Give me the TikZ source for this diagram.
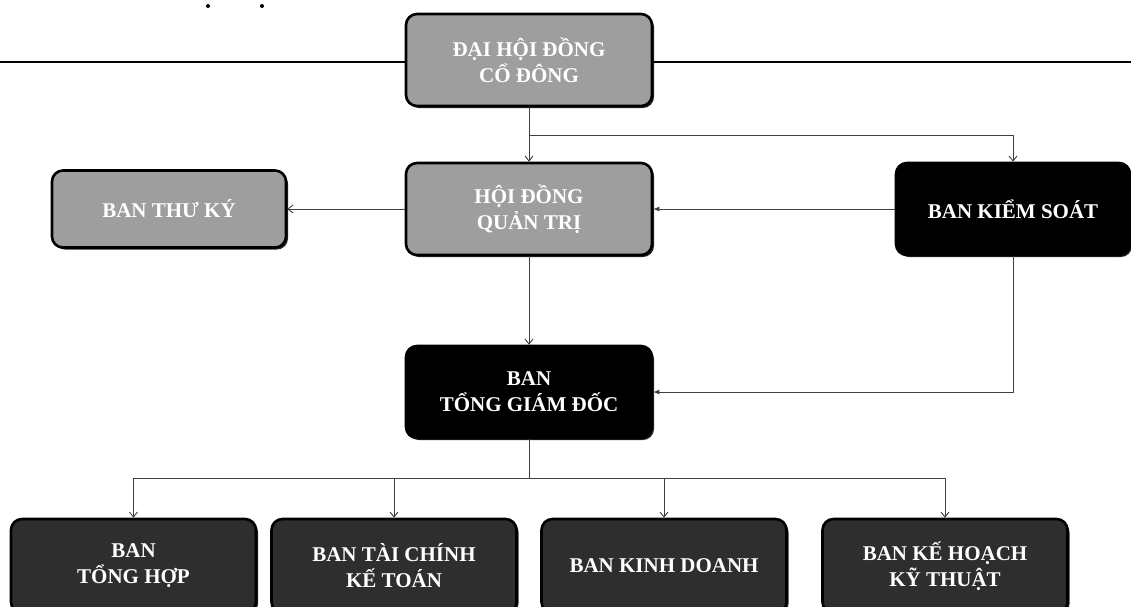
\documentclass[tikz,border=0pt]{standalone}
\usepackage{fontspec}
\setmainfont{Liberation Serif}
\usetikzlibrary{arrows.meta,shadows}
\begin{document}
\begin{tikzpicture}[x=1pt,y=-1pt,
 box/.style={draw=black, line width=2.6pt, rounded corners=11pt, align=center, text=white,
   font=\bfseries\fontsize{21}{26}\selectfont, inner sep=0pt,
   drop shadow={shadow xshift=2pt, shadow yshift=-2pt, fill=black, opacity=0.85}},
 lightbox/.style={box, fill=black!38},
 blackbox/.style={box, fill=black},
 darkbox/.style={box, fill=black!82},
 conn/.style={draw=black!75, line width=0.9pt},
 openarrow/.style={conn, -{Straight Barb[length=5pt,width=8pt]}},
 fillarrow/.style={conn, -{Latex[length=6pt,width=5pt]}}
]
\useasboundingbox (0,0) rectangle (1131,606);
\fill (208,6) circle (2pt);
\fill (262,6) circle (2pt);
\draw[line width=1.3pt] (0,62) -- (1131,62);

\node[lightbox, minimum width=246pt, minimum height=92pt] (dhd) at (529,60) {ĐẠI HỘI ĐỒNG\\CỔ ĐÔNG};
\node[lightbox, minimum width=246pt, minimum height=92pt] (hdqt) at (529,209) {HỘI ĐỒNG\\QUẢN TRỊ};
\node[lightbox, minimum width=234pt, minimum height=77pt] (tk) at (169,209) {BAN THƯ KÝ};
\node[blackbox, minimum width=234pt, minimum height=92pt] (ks) at (1013,209) {BAN KIỂM SOÁT};
\node[blackbox, minimum width=246pt, minimum height=92pt] (tgd) at (529,392) {BAN\\TỔNG GIÁM ĐỐC};

\node[darkbox, minimum width=245pt, minimum height=94pt] (b1) at (133.5,566) {BAN\\TỔNG HỢP};
\node[darkbox, minimum width=245pt, minimum height=94pt] (b2) at (394,566) {BAN TÀI CHÍNH\\KẾ TOÁN};
\node[darkbox, minimum width=245pt, minimum height=94pt] (b3) at (664,566) {BAN KINH DOANH};
\node[darkbox, minimum width=245pt, minimum height=94pt] (b4) at (945,566) {BAN KẾ HOẠCH\\KỸ THUẬT};

\coordinate (j1) at (529,135);
\coordinate (bus) at (529,478);
\draw[openarrow] (dhd.south) -- (hdqt.north);
\draw[openarrow] (j1) -| (ks.north);
\draw[openarrow] (hdqt.west) -- (tk.east);
\draw[fillarrow] (ks.west) -- (hdqt.east);
\draw[openarrow] (hdqt.south) -- (tgd.north);
\draw[fillarrow] (ks.south) |- (tgd.east);
\draw[conn] (tgd.south) -- (bus);
\draw[conn] (b1.north |- bus) -- (b4.north |- bus);
\foreach \b in {b1,b2,b3,b4} \draw[openarrow] (\b.north |- bus) -- (\b.north);
\end{tikzpicture}
\end{document}
